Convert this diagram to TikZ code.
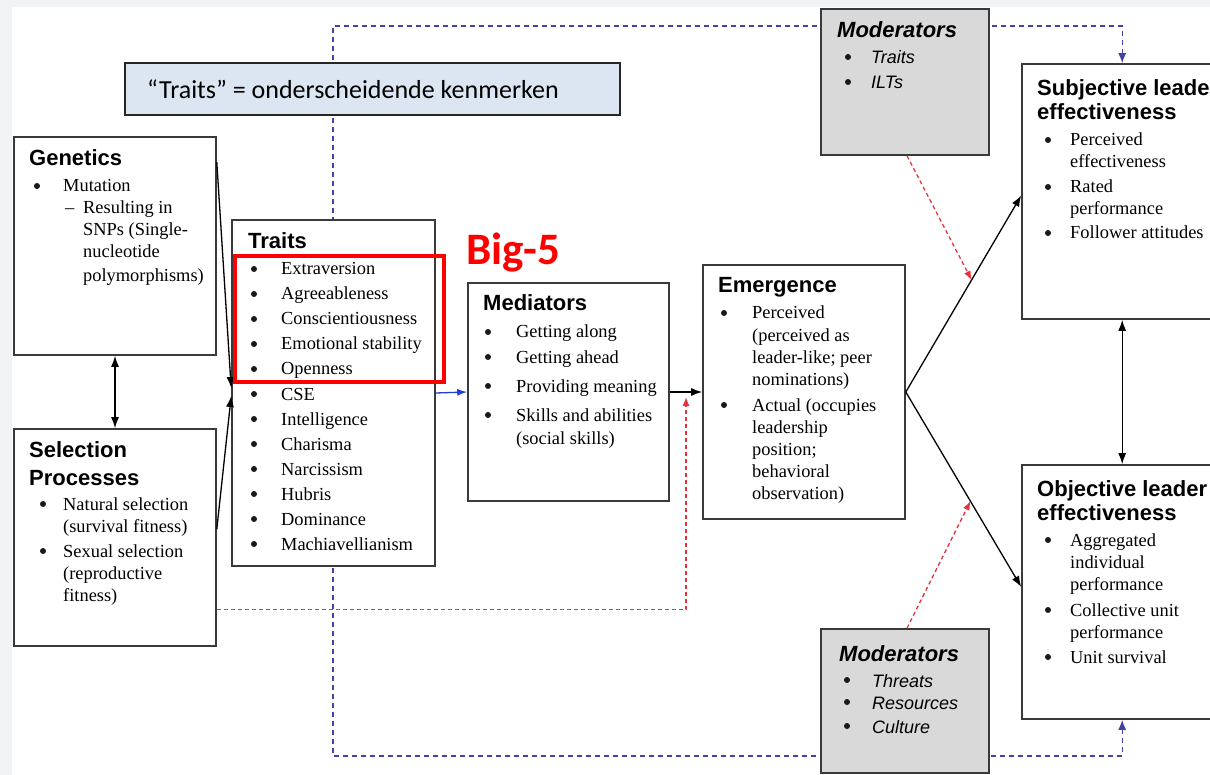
\documentclass[tikz,border=0pt]{standalone}
\usepackage{fontspec}
\setmainfont{Liberation Serif}
\newfontfamily\hsans{Liberation Sans}
\newfontfamily\calib{Carlito}
\usetikzlibrary{arrows.meta,calc,backgrounds}

\definecolor{pagegrey}{HTML}{F2F3F5}
\definecolor{boxline}{HTML}{3A3A3A}
\definecolor{modfill}{HTML}{D9D9D9}
\definecolor{notefill}{HTML}{DCE6F2}
\definecolor{bigred}{HTML}{FF0000}
\definecolor{dashblue}{HTML}{4242A8}
\definecolor{arrowblue}{HTML}{2040D0}
\definecolor{dashred}{HTML}{E5333B}

\begin{document}
\begin{tikzpicture}[x=1pt,y=-1pt,
  box/.style={draw=boxline, line width=1.6pt, fill=white, inner sep=0pt, rectangle},
  modbox/.style={box, fill=modfill},
  notebox/.style={draw=black!85, line width=1.3pt, fill=notefill, inner sep=0pt, rectangle},
  ttl/.style={anchor=base west, inner sep=0pt, font=\hsans\bfseries\fontsize{22}{26}\selectfont},
  mttl/.style={ttl, font=\hsans\bfseries\itshape\fontsize{22}{26}\selectfont},
  itm/.style={anchor=base west, inner sep=0pt, font=\fontsize{18.4}{22}\selectfont},
  mitm/.style={itm, font=\hsans\itshape\fontsize{18}{22}\selectfont},
  bul/.style={circle, fill=black!90, minimum size=6pt, inner sep=0pt},
  link/.style={line width=1.3pt, black, -{Latex[length=11pt,width=8pt]}},
  both/.style={line width=1.3pt, black, {Latex[length=11pt,width=8pt]}-{Latex[length=11pt,width=8pt]}},
  bluelink/.style={line width=1.3pt, arrowblue, -{Latex[length=10pt,width=7pt]}},
  modlink/.style={dashred, line width=1.3pt, dash pattern=on 4pt off 3pt, -{Latex[length=9pt,width=7pt]}},
  ctrl/.style={dashblue, line width=1.3pt, dash pattern=on 5pt off 4pt}
]
\useasboundingbox (0,0) rectangle (1210,775);
\clip (0,0) rectangle (1210,775);

% ---- boxes ----
\node[box, minimum width=202pt, minimum height=218pt] (gen) at (115,246) {};
\node[box, minimum width=202pt, minimum height=217pt] (sel) at (115,537.5) {};
\node[box, minimum width=203pt, minimum height=346pt] (traits) at (333.5,393) {};
\node[box, minimum width=201pt, minimum height=218pt] (med) at (568.5,392) {};
\node[box, minimum width=202pt, minimum height=254pt] (emg) at (804,392) {};
\node[modbox, minimum width=168pt, minimum height=146pt] (modt) at (905,82) {};
\node[modbox, minimum width=168pt, minimum height=144pt] (modb) at (905,701) {};
\node[box, minimum width=228pt, minimum height=255pt] (subj) at (1136,191.5) {};
\node[box, minimum width=228pt, minimum height=254pt] (obj) at (1136,592) {};

% ---- page and control loop behind the boxes ----
\begin{pgfonlayer}{background}
  \fill[pagegrey] (0,0) rectangle (1210,775);
  \fill[white] (12,7) rectangle (1210,775);
  \coordinate (ctl) at (333,26);
  \coordinate (cbl) at (333,756);
  \draw[ctrl, {Latex[length=10pt,width=8pt]}-{Latex[length=10pt,width=8pt]}]
    ($(subj.north west)+(101,0)$) |- (ctl) -- (cbl) -| ($(obj.south west)+(101,0)$);
\end{pgfonlayer}

% ---- connectors ----
\draw[both] (gen.south) -- (sel.north);
\draw[link] ($(gen.north east)+(0,26)$) -- ($(traits.west)+(0,-5)$);
\draw[link] ($(sel.north east)+(0,101)$) -- ($(traits.west)+(0,3)$);
\draw[bluelink] (traits.east) -- (med.west);
\draw[link] (med.east) -- (emg.west);
\draw[modlink, shorten >=5pt] ($(sel.south east)+(0,-37)$) -| ($(med.east)!0.5!(emg.west)$);
\draw[link] (emg.east) -- coordinate[pos=0.57] (hitS) ($(subj.west)+(0,4)$);
\draw[link] (emg.east) -- coordinate[pos=0.56] (hitO) ($(obj.west)+(0,-5)$);
\draw[both] ($(subj.south west)+(101,0)$) -- ($(obj.north west)+(101,0)$);
\draw[modlink] ($(modt.south)+(2,0)$) -- (hitS);
\draw[modlink] ($(modb.north)+(2,0)$) -- (hitO);

% ---- Genetics ----
\node[ttl] (genT) at (29,166) {Genetics};
\node[bul] (genB) at (37,186) {};
\node[itm] (genM) at (63,192) {Mutation};
\node[itm] (genD) at (65,214) {–};
\foreach \y/\t [count=\i] in {214/Resulting in, 236/SNPs (Single-, 258/nucleotide, 282/polymorphisms)}
  \node[itm] (genL\i) at (83,\y) {\t};

% ---- Selection Processes ----
\node[ttl] (selT1) at (29,457) {Selection};
\node[ttl] (selT2) at (29,485) {Processes};
\foreach \y [count=\i] in {510,557}
  \node[bul] (selB\i) at (43,\y-6) {};
\foreach \y/\t [count=\i] in {510/Natural selection, 532/(survival fitness), 557/Sexual selection, 579/(reproductive, 601/fitness)}
  \node[itm] (selL\i) at (63,\y) {\t};

% ---- Traits ----
\node[ttl] (trT) at (248,249) {Traits};
\foreach \t [count=\i] in {Extraversion, Agreeableness, Conscientiousness, Emotional stability, Openness, CSE, Intelligence, Charisma, Narcissism, Hubris, Dominance, Machiavellianism}{
  \node[bul] (trB\i) at (254,{244+25*\i}) {};
  \node[itm] (trL\i) at (281,{250+25*\i}) {\t};
}

% ---- Mediators ----
\node[ttl] (medT) at (483,311) {Mediators};
\foreach \y [count=\i] in {338,363,392,421}
  \node[bul] (medB\i) at (488,\y-6) {};
\foreach \y/\t [count=\i] in {338/Getting along, 363/Getting ahead, 392/Providing meaning, 421/Skills and abilities, 444/(social skills)}
  \node[itm] (medL\i) at (516,\y) {\t};

% ---- Emergence ----
\node[ttl] (emgT) at (718,293) {Emergence};
\foreach \y [count=\i] in {319,411}
  \node[bul] (emgB\i) at (724,\y-6) {};
\foreach \y/\t [count=\i] in {319/Perceived, 342/(perceived as, 364/leader-like; peer, 386/nominations), 411/Actual (occupies, 433/leadership, 455/position;, 477/behavioral, 499/observation)}
  \node[itm] (emgL\i) at (752,\y) {\t};

% ---- Subjective leader effectiveness ----
\node[ttl] (subT1) at (1037,96) {Subjective leader};
\node[ttl] (subT2) at (1037,120) {effectiveness};
\foreach \y [count=\i] in {146,193,239}
  \node[bul] (subB\i) at (1048,\y-6) {};
\foreach \y/\t [count=\i] in {146/Perceived, 168/effectiveness, 193/Rated, 215/performance, 239/Follower attitudes}
  \node[itm] (subL\i) at (1070,\y) {\t};

% ---- Objective leader effectiveness ----
\node[ttl] (objT1) at (1037,496) {Objective leader};
\node[ttl] (objT2) at (1037,520) {effectiveness};
\foreach \y [count=\i] in {546,616,663}
  \node[bul] (objB\i) at (1048,\y-6) {};
\foreach \y/\t [count=\i] in {546/Aggregated, 568/individual, 590/performance, 616/Collective unit, 638/performance, 663/Unit survival}
  \node[itm] (objL\i) at (1070,\y) {\t};

% ---- Moderators ----
\node[mttl] (mtT) at (837,38) {Moderators};
\foreach \y/\t [count=\i] in {64/Traits, 89/ILTs}{
  \node[bul] (mtB\i) at (848,\y-7) {};
  \node[mitm] (mtL\i) at (871,\y) {\t};
}
\node[mttl] (mbT) at (839,661) {Moderators};
\foreach \y/\t [count=\i] in {687/Threats, 709/Resources, 733/Culture}{
  \node[bul] (mbB\i) at (847,\y-7) {};
  \node[mitm] (mbL\i) at (872,\y) {\t};
}

% ---- Big-5 highlight ----
\node[draw=bigred, line width=4pt, minimum width=209pt, minimum height=126pt, inner sep=0pt] (bigbox) at (339.5,319) {};
\node[anchor=base west, inner sep=0pt, text=bigred, font=\calib\bfseries\fontsize{45}{50}\selectfont] (bigT) at (466,265) {Big-5};

% ---- note ----
\node[notebox, minimum width=495pt, minimum height=52pt] (note) at (372.5,89) {};
\node[anchor=base west, inner sep=0pt, font=\calib\fontsize{26}{30}\selectfont] (noteT) at (147,99) {“Traits” = onderscheidende kenmerken};

\end{tikzpicture}
\end{document}
